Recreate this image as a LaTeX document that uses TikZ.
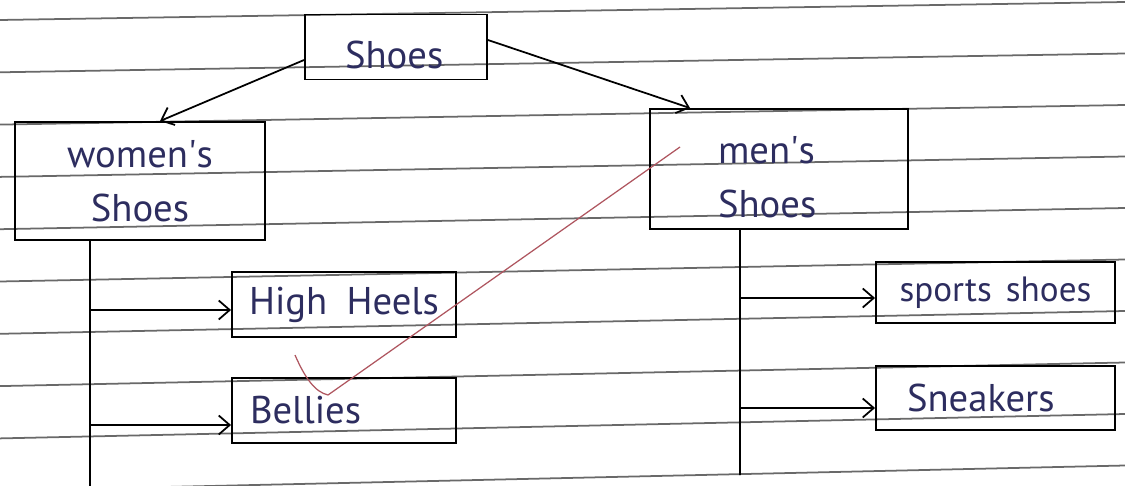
\documentclass[tikz,border=0pt]{standalone}
\usepackage{fontspec}
\setmainfont{PT Sans}
\usetikzlibrary{arrows.meta}
\definecolor{ink}{RGB}{45,45,95}
\definecolor{ruling}{RGB}{105,105,105}
\definecolor{tick}{RGB}{175,85,95}
\newcommand{\lift}[1]{\rule{0pt}{#1}}
\tikzset{
  box/.style={draw=black, line width=1.1pt, rectangle, text=ink,
    font=\fontsize{22}{31}\selectfont, inner sep=0pt},
  link/.style={draw=black, line width=1pt,
    -{Straight Barb[length=2.2mm,width=3.8mm]}},
  trunk/.style={draw=black, line width=1.1pt},
}

\begin{document}
\begin{tikzpicture}[x=0.02cm, y=-0.02cm]
  \useasboundingbox[fill=white] (0,0) rectangle (1125,486);
  \clip (0,0) rectangle (1125,486);
  % ruled paper
  \foreach \k in {0,...,9}{%
    \draw[ruling, line width=1pt] (0,{20+52.3*\k}) -- (1125,{2+51.5*\k});
  }

  % top level
  \node[box, inner xsep=0.8cm, text width=2.04cm, minimum height=1.3cm, align=left]
    (shoes) at (396,47) {\lift{25pt}Shoes};
  \node[box, minimum width=5cm, minimum height=2.36cm, align=center]
    (women) at (140,181) {women\textquotesingle s\\Shoes};
  \node[box, inner xsep=1.36cm, text width=2.44cm, minimum height=2.4cm, align=left]
    (men) at (779,169) {\lift{25pt}men\textquotesingle s\\Shoes};

  % women's side
  \node[box, minimum width=4.48cm, minimum height=1.3cm] (heels) at (344,304.5)
    {High\hspace{0.5em}Heels};
  \node[box, inner xsep=0.36cm, text width=3.76cm, minimum height=1.3cm, align=left]
    (bellies) at (344,410.5) {Bellies};

  % men's side
  \node[box, minimum width=4.78cm, minimum height=1.22cm, font=\fontsize{20}{24}\selectfont]
    (sports) at (995.5,292.5) {sports\hspace{0.4em}shoes};
  \node[box, inner xsep=0.62cm, text width=3.54cm, minimum height=1.28cm, align=left]
    (sneakers) at (995.5,398) {Sneakers};

  \draw[link] ([yshift=-0.26cm]shoes.west) -- ([xshift=0.4cm]women.north);
  \draw[link] ([yshift=0.14cm]shoes.east) -- ([xshift=-1.78cm]men.north);

  \coordinate (wend) at (90,486);
  \coordinate (w1) at (90,310);
  \coordinate (w2) at (90,425);
  \draw[trunk] ([xshift=-1cm]women.south) -- (wend);
  \draw[link] (w1) -- (w1 -| heels.west);
  \draw[link] (w2) -- (w2 -| bellies.west);

  \coordinate (mend) at (740,475);
  \coordinate (m1) at (740,298);
  \coordinate (m2) at (740,408);
  \draw[trunk] ([xshift=-0.78cm]men.south) -- (mend);
  \draw[link] (m1) -- (m1 -| sports.west);
  \draw[link] (m2) -- (m2 -| sneakers.west);

  % red tick across the page
  \draw[tick, line width=0.7pt] (295,355) .. controls (305,378) and (315,392) .. (328,395)
    -- (680,147);
\end{tikzpicture}
\end{document}
